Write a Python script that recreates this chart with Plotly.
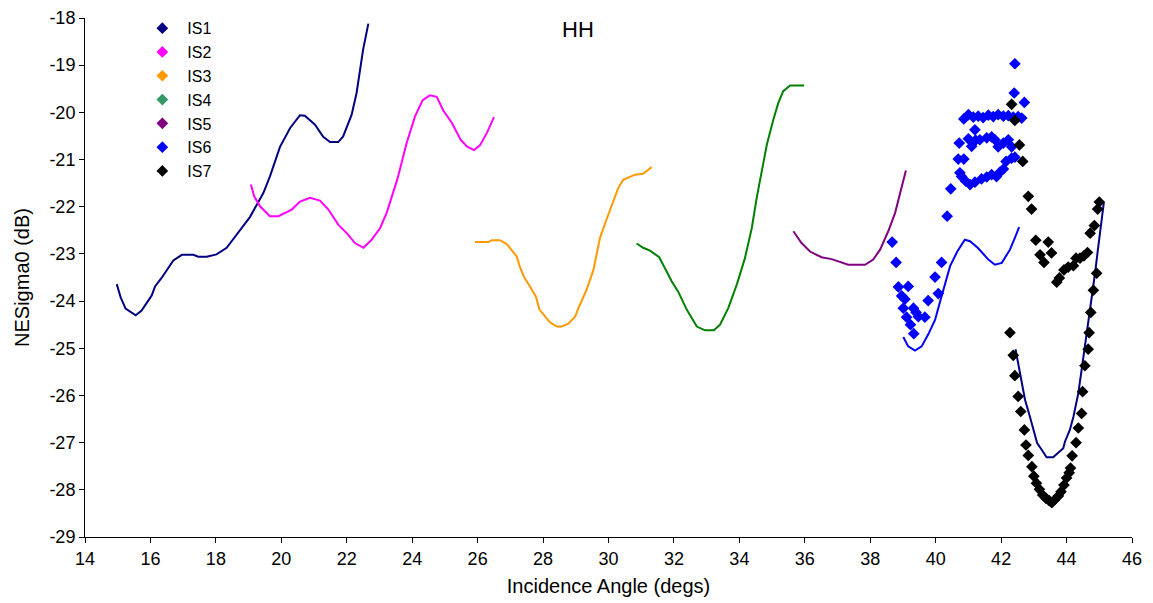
import plotly.graph_objects as go

# ---------------- data ----------------
is1_x = [14.97, 15.09, 15.24, 15.55, 15.73, 16.04, 16.14, 16.34, 16.70, 16.96, 17.31, 17.46, 17.72, 18.02, 18.33,
         18.69, 19.04, 19.45, 19.65, 19.96, 20.27, 20.57, 20.72, 21.03, 21.28, 21.49, 21.74, 21.89, 22.15, 22.30,
         22.50, 22.66]
is1_y = [-23.64, -23.92, -24.16, -24.30, -24.20, -23.88, -23.69, -23.51, -23.14, -23.02, -23.02, -23.06, -23.06,
         -23.01, -22.87, -22.54, -22.22, -21.71, -21.36, -20.73, -20.33, -20.06, -20.07, -20.26, -20.52, -20.63,
         -20.63, -20.51, -20.05, -19.59, -18.67, -18.12]

is2_x = [19.07, 19.17, 19.35, 19.65, 19.91, 20.32, 20.57, 20.88, 21.18, 21.44, 21.74, 22.00, 22.25, 22.51, 22.76,
         23.02, 23.22, 23.37, 23.55, 23.83, 24.09, 24.32, 24.54, 24.75, 24.95, 25.21, 25.48, 25.67, 25.89, 26.07,
         26.28, 26.50]
is2_y = [-21.53, -21.78, -21.99, -22.20, -22.20, -22.06, -21.89, -21.81, -21.87, -22.06, -22.38, -22.56, -22.77,
         -22.87, -22.70, -22.45, -22.13, -21.78, -21.41, -20.65, -20.08, -19.74, -19.64, -19.67, -19.96, -20.22,
         -20.58, -20.72, -20.80, -20.70, -20.44, -20.10]

is3_x = [25.92, 26.33, 26.43, 26.68, 26.89, 27.19, 27.29, 27.42, 27.60, 27.78, 27.89, 28.06, 28.21, 28.42, 28.57,
         28.77, 28.98, 29.08, 29.33, 29.54, 29.74, 29.94, 30.30, 30.45, 30.81, 31.06, 31.32]
is3_y = [-22.75, -22.75, -22.71, -22.71, -22.79, -23.05, -23.27, -23.49, -23.69, -23.90, -24.18, -24.33, -24.45,
         -24.54, -24.54, -24.48, -24.33, -24.15, -23.76, -23.34, -22.66, -22.27, -21.60, -21.43, -21.32, -21.30,
         -21.16]

is4_x = [30.86, 31.06, 31.27, 31.55, 31.73, 31.93, 32.13, 32.39, 32.70, 32.95, 33.22, 33.41, 33.66, 33.92, 34.17,
         34.38, 34.53, 34.68, 34.84, 35.04, 35.19, 35.34, 35.55, 35.98]
is4_y = [-22.78, -22.87, -22.93, -23.07, -23.31, -23.58, -23.80, -24.18, -24.54, -24.62, -24.62, -24.50, -24.15,
         -23.65, -23.09, -22.45, -21.81, -21.28, -20.68, -20.15, -19.80, -19.55, -19.43, -19.43]

is5_x = [35.65, 35.90, 36.16, 36.51, 36.82, 37.07, 37.33, 37.84, 38.09, 38.30, 38.55, 38.76, 38.91, 39.09]
is5_y = [-22.52, -22.77, -22.95, -23.07, -23.11, -23.17, -23.23, -23.23, -23.12, -22.91, -22.52, -22.13, -21.71,
         -21.23]

is6_line_x = [39.01, 39.16, 39.37, 39.57, 39.77, 39.98, 40.15, 40.34, 40.44, 40.66, 40.89, 41.05, 41.30, 41.61,
              41.81, 42.02, 42.27, 42.42, 42.55]
is6_line_y = [-24.76, -24.96, -25.05, -24.96, -24.71, -24.40, -23.97, -23.48, -23.26, -22.95, -22.70, -22.73,
              -22.88, -23.12, -23.23, -23.19, -22.91, -22.66, -22.43]

is6_pts_x = [38.67, 38.79, 38.86, 38.96, 39.01, 39.06, 39.11, 39.16, 39.23, 39.32, 39.33, 39.40, 39.47, 39.67,
             39.77, 39.98, 40.08, 40.18, 40.35, 40.46,
             40.69, 40.72, 40.74, 40.79, 40.86, 40.86, 40.92, 41.00, 41.00, 41.05, 41.10, 41.15, 41.20, 41.20,
             41.22, 41.30, 41.35, 41.40, 41.45, 41.56, 41.56, 41.61, 41.71, 41.71, 41.76, 41.81, 41.86, 41.91,
             41.91, 41.96, 42.07, 42.07, 42.07, 42.15, 42.22, 42.22, 42.32, 42.32, 42.37, 42.40, 42.42, 42.42,
             42.52, 42.63, 42.71]
is6_pts_y = [-22.75, -23.18, -23.70, -23.89, -24.15, -23.96, -24.34, -23.69, -24.50, -24.15, -24.69, -24.24,
             -24.33, -24.34, -23.99, -23.49, -23.84, -23.18, -22.20, -21.62,
             -20.99, -20.65, -21.28, -21.36, -20.14, -20.99, -21.46, -20.05, -20.56, -21.53, -20.72, -20.10,
             -20.37, -21.48, -20.59, -20.08, -20.58, -21.41, -20.11, -20.54, -21.37, -20.06, -20.52, -21.32,
             -20.09, -20.58, -21.36, -20.05, -20.73, -21.27, -20.08, -20.65, -21.20, -21.04, -20.07, -20.58,
             -20.73, -20.97, -20.10, -19.59, -18.97, -20.95, -20.09, -20.12, -19.79]

is7_line_x = [42.44, 42.52, 42.63, 42.73, 42.88, 43.03, 43.10, 43.24, 43.39, 43.59, 43.75, 43.90, 43.95, 44.10,
              44.21, 44.36, 44.46, 44.56, 44.66, 44.77, 44.87, 44.97, 45.07, 45.14]
is7_line_y = [-25.02, -25.31, -25.74, -26.09, -26.45, -26.80, -27.01, -27.15, -27.31, -27.31, -27.22, -27.12,
              -26.98, -26.73, -26.45, -25.95, -25.46, -24.96, -24.47, -23.97, -23.41, -22.84, -22.27, -21.91]

is7_pts_x = [42.27, 42.32, 42.37, 42.42, 42.42, 42.52, 42.56, 42.60, 42.66, 42.71, 42.76, 42.83, 42.83, 42.93,
             42.94, 43.00, 43.06, 43.08, 43.17, 43.19, 43.27, 43.31, 43.37, 43.44, 43.47, 43.54, 43.55, 43.64,
             43.70, 43.75, 43.78, 43.83, 43.92, 43.92, 44.00, 44.05, 44.08, 44.12, 44.17, 44.21, 44.29, 44.29,
             44.36, 44.41, 44.46, 44.49, 44.53, 44.56, 44.64, 44.66, 44.69, 44.72, 44.74, 44.82, 44.85, 44.92,
             44.95, 45.00]
is7_pts_y = [-24.67, -19.83, -25.15, -20.17, -25.58, -26.02, -20.69, -26.34, -21.04, -26.73, -27.05, -21.78,
             -27.27, -22.05, -27.51, -27.71, -22.71, -27.86, -27.99, -23.02, -28.11, -23.18, -28.18, -22.75,
             -28.23, -22.98, -28.27, -28.21, -23.60, -28.13, -23.51, -28.04, -27.90, -23.34, -27.75, -23.28,
             -27.64, -27.54, -27.28, -23.25, -27.00, -23.09, -26.69, -23.09, -26.38, -25.92, -23.04, -25.37,
             -22.97, -25.02, -24.67, -22.56, -24.24, -23.77, -22.40, -23.41, -22.05, -21.90]

series_names = ["IS1", "IS2", "IS3", "IS4", "IS5", "IS6", "IS7"]
legend_colors = ["#000080", "#FF00FF", "#FF9900", "#339966", "#800080", "#0000FF", "#000000"]
line_colors = ["#000080", "#FF00FF", "#FF9900", "#008000", "#800080", "#0000FF", "#000080"]

x_ticks = list(range(14, 47, 2))
y_ticks = list(range(-29, -17))
y_ticktext = [str(v) for v in y_ticks]
title_text = "HH"
x_title = "Incidence Angle (degs)"
y_title = "NESigma0 (dB)"

# ---------------- figure ----------------
fig = go.Figure()
FONT = "Liberation Sans, Arial, sans-serif"

line_sets = [(is1_x, is1_y), (is2_x, is2_y), (is3_x, is3_y), (is4_x, is4_y), (is5_x, is5_y),
             (is6_line_x, is6_line_y), (is7_line_x, is7_line_y)]
for i, (lx, ly) in enumerate(line_sets):
    fig.add_trace(go.Scatter(x=lx, y=ly, mode="lines", showlegend=False, hoverinfo="x+y",
                             line=dict(color=line_colors[i], width=2)))

# legend proxies for line-only series (IS1-IS5)
for i in range(5):
    fig.add_trace(go.Scatter(x=[None], y=[None], mode="markers", name=series_names[i], legendrank=i + 1,
                             marker=dict(symbol="diamond", size=9, color=legend_colors[i])))

fig.add_trace(go.Scatter(x=is6_pts_x, y=is6_pts_y, mode="markers", name=series_names[5], legendrank=6,
                         marker=dict(symbol="diamond", size=9, color=legend_colors[5])))
fig.add_trace(go.Scatter(x=is7_pts_x, y=is7_pts_y, mode="markers", name=series_names[6], legendrank=7,
                         marker=dict(symbol="diamond", size=9, color=legend_colors[6])))

axis_common = dict(showgrid=False, zeroline=False, showline=True, linecolor="black", linewidth=1,
                   ticks="outside", ticklen=5, tickcolor="black", tickwidth=1, automargin=False,
                   tickfont=dict(family=FONT, size=18, color="black"), mirror=False)

# the page body adds an 8px offset, so the figure is sized to fit the window
fig.update_layout(
    width=1145, height=595,
    margin=dict(l=77, r=21, t=10, b=66, autoexpand=False),
    paper_bgcolor="white", plot_bgcolor="white",
    font=dict(family=FONT, color="black"),
    xaxis=dict(range=[14, 46], tickvals=x_ticks, title=dict(text=x_title, font=dict(size=20), standoff=11),
               **axis_common),
    yaxis=dict(range=[-29, -18], tickvals=y_ticks, ticktext=y_ticktext,
               title=dict(text=y_title, font=dict(size=20), standoff=14), **axis_common),
    legend=dict(x=0.05, y=1.013, xanchor="left", yanchor="top", bgcolor="rgba(0,0,0,0)",
                font=dict(family=FONT, size=16, color="black"), tracegroupgap=0, itemwidth=40),
    annotations=[dict(text=title_text, xref="paper", yref="paper", x=0.471, y=0.978, xanchor="center",
                      yanchor="middle", showarrow=False, font=dict(family=FONT, size=22, color="black"))],
    showlegend=True,
)

fig.write_html("out.html")
